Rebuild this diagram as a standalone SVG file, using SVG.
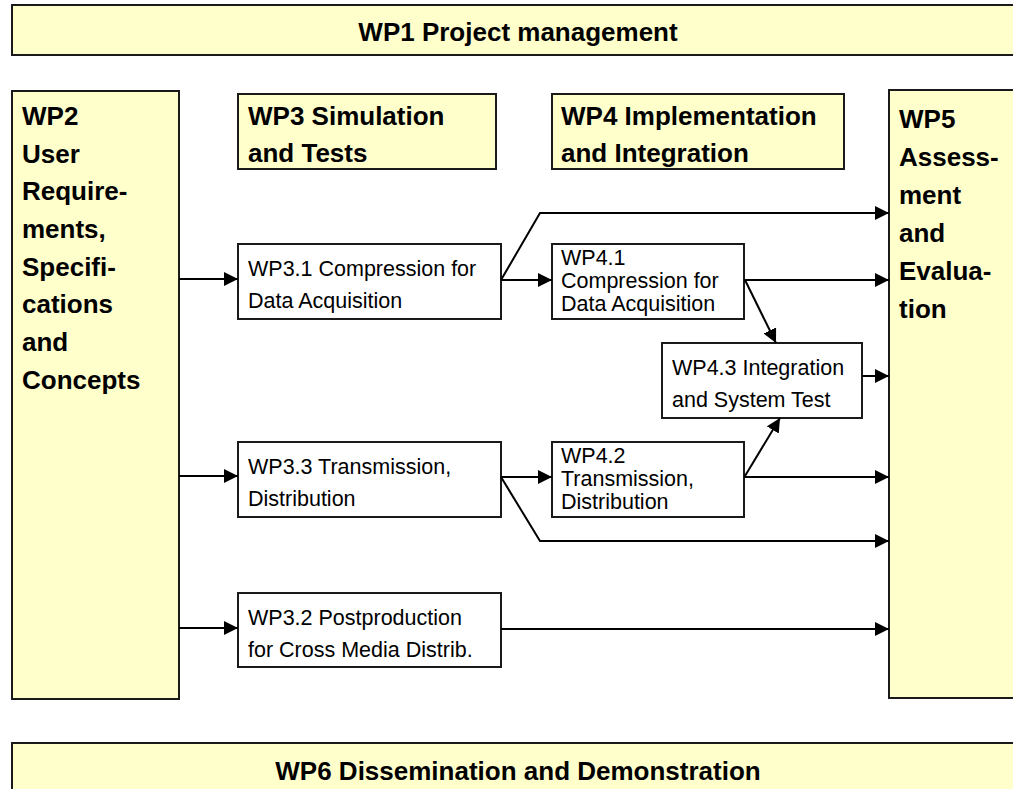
<svg xmlns="http://www.w3.org/2000/svg" width="1013" height="789" viewBox="0 0 1013 789">
<style>
.y{fill:#FFFFCC;stroke:#1a1a1a;stroke-width:2}
.w{fill:#FFFFFF;stroke:#1a1a1a;stroke-width:2}
.h{font-family:"Liberation Sans",Arial,sans-serif;font-weight:bold;font-size:26px;fill:#000}
.t{font-family:"Liberation Sans",Arial,sans-serif;font-size:21.5px;fill:#000}
.c{fill:none;stroke:#000;stroke-width:2}
</style>
<defs>
<marker id="a" markerUnits="userSpaceOnUse" markerWidth="15" markerHeight="15" refX="14" refY="7" orient="auto">
<path d="M0,0 L14,7 L0,14 z" fill="#000"/>
</marker>
</defs>
<rect width="1013" height="789" fill="#fff"/>
<g id="wp1"><rect class="y" x="12" y="5" width="1010" height="50"/><text class="h" x="518" y="41" text-anchor="middle">WP1 Project management</text></g>
<g id="wp2"><rect class="y" x="12" y="91" width="167" height="608"/>
<text class="h" x="22"><tspan x="22" y="125">WP2</tspan><tspan x="22" y="162.7">User</tspan><tspan x="22" y="200.4">Require-</tspan><tspan x="22" y="238">ments,</tspan><tspan x="22" y="275.7">Specifi-</tspan><tspan x="22" y="313.4">cations</tspan><tspan x="22" y="351">and</tspan><tspan x="22" y="388.7">Concepts</tspan></text></g>
<g id="wp3"><rect class="y" x="238" y="94" width="258" height="75"/><text class="h"><tspan x="248" y="125">WP3 Simulation</tspan><tspan x="248" y="162">and Tests</tspan></text></g>
<g id="wp4"><rect class="y" x="552" y="94" width="292" height="75"/><text class="h"><tspan x="561" y="125">WP4 Implementation</tspan><tspan x="561" y="162">and Integration</tspan></text></g>
<g id="wp5"><rect class="y" x="889" y="90" width="135" height="608"/>
<text class="h"><tspan x="899" y="128">WP5</tspan><tspan x="899" y="166">Assess-</tspan><tspan x="899" y="204">ment</tspan><tspan x="899" y="242">and</tspan><tspan x="899" y="280">Evalua-</tspan><tspan x="899" y="318">tion</tspan></text></g>
<g id="wp31"><rect class="w" x="238" y="244" width="263" height="75"/><text class="t"><tspan x="248" y="276">WP3.1 Compression for</tspan><tspan x="248" y="308">Data Acquisition</tspan></text></g>
<g id="wp33"><rect class="w" x="238" y="442" width="263" height="75"/><text class="t"><tspan x="248" y="474">WP3.3 Transmission,</tspan><tspan x="248" y="506">Distribution</tspan></text></g>
<g id="wp32"><rect class="w" x="238" y="593" width="263" height="74"/><text class="t"><tspan x="248" y="625">WP3.2 Postproduction</tspan><tspan x="248" y="657">for Cross Media Distrib.</tspan></text></g>
<g id="wp41"><rect class="w" x="552" y="244" width="192" height="75"/><text class="t"><tspan x="561" y="265">WP4.1</tspan><tspan x="561" y="288">Compression for</tspan><tspan x="561" y="311">Data Acquisition</tspan></text></g>
<g id="wp42"><rect class="w" x="552" y="442" width="192" height="75"/><text class="t"><tspan x="561" y="463">WP4.2</tspan><tspan x="561" y="486">Transmission,</tspan><tspan x="561" y="509">Distribution</tspan></text></g>
<g id="wp43"><rect class="w" x="662" y="343" width="200" height="75"/><text class="t"><tspan x="672" y="375">WP4.3 Integration</tspan><tspan x="672" y="407">and System Test</tspan></text></g>
<g id="wp6"><rect class="y" x="12" y="743" width="1010" height="60"/><text class="h" x="518" y="780" text-anchor="middle">WP6 Dissemination and Demonstration</text></g>
<g id="connectors">
<line class="c" x1="179" y1="279" x2="238" y2="279" marker-end="url(#a)"/>
<line class="c" x1="179" y1="476" x2="238" y2="476" marker-end="url(#a)"/>
<line class="c" x1="179" y1="628" x2="238" y2="628" marker-end="url(#a)"/>
<line class="c" x1="501" y1="280" x2="552" y2="280" marker-end="url(#a)"/>
<polyline class="c" points="501,280 540,213 889,213" marker-end="url(#a)"/>
<line class="c" x1="744" y1="280" x2="889" y2="280" marker-end="url(#a)"/>
<line class="c" x1="745" y1="280" x2="776" y2="343" marker-end="url(#a)"/>
<line class="c" x1="862" y1="376" x2="889" y2="376" marker-end="url(#a)"/>
<line class="c" x1="501" y1="477" x2="552" y2="477" marker-end="url(#a)"/>
<polyline class="c" points="501,477 540,541 889,541" marker-end="url(#a)"/>
<line class="c" x1="744" y1="477" x2="889" y2="477" marker-end="url(#a)"/>
<line class="c" x1="745" y1="476" x2="780" y2="418" marker-end="url(#a)"/>
<line class="c" x1="501" y1="629" x2="889" y2="629" marker-end="url(#a)"/>
</g>
</svg>
